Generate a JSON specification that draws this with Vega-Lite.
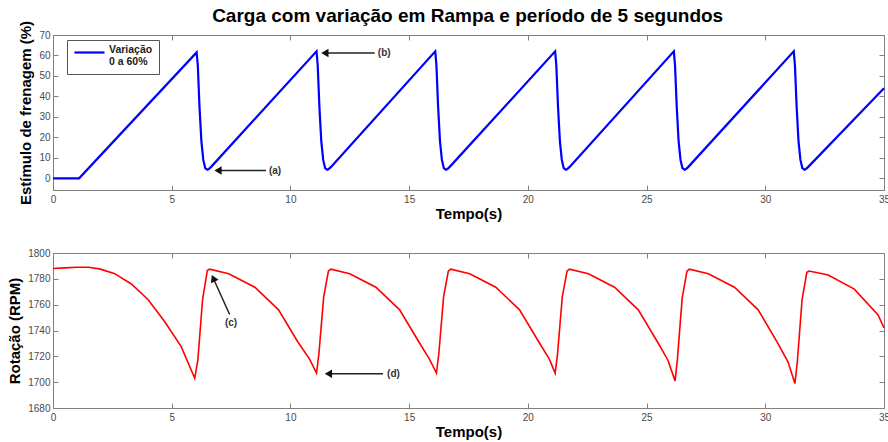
{
  "$schema": "https://vega.github.io/schema/vega-lite/v6.json",
  "background": "white",
  "padding": {"left": 7, "top": 6, "right": 2, "bottom": 0},
  "title": {"text": "Carga com variação em Rampa e período de 5 segundos", "fontSize": 19, "fontWeight": "bold", "font": "Liberation Sans", "anchor": "middle", "offset": -6, "dx": 19, "color": "#000"},
  "config": {
    "font": "Liberation Sans",
    "view": {"stroke": "#808080", "strokeWidth": 1},
    "axis": {"domainColor": "#808080", "tickColor": "#808080", "tickSize": -5, "labelPadding": 9, "labelColor": "#4a4a4a", "labelFontSize": 10, "labelFont": "Liberation Sans", "titleFontSize": 15, "titleFontWeight": "bold", "titleColor": "#000", "titleFont": "Liberation Sans", "grid": false, "titlePadding": 2, "format": "d", "labelFlush": false}
  },
  "spacing": 25,
  "vconcat": [
    {
      "width": 831,
      "height": 155,
      "resolve": {"axis": {"x": "independent", "y": "independent"}},
      "layer": [
        {
          "data": {"name": "blue", "values": [
            {"t": 0, "v": 0}, {"t": 1.1, "v": 0}, {"t": 6.05, "v": 61.5},
            {"t": 6.1, "v": 55}, {"t": 6.17, "v": 35}, {"t": 6.25, "v": 18}, {"t": 6.33, "v": 9}, {"t": 6.41, "v": 5}, {"t": 6.5, "v": 4.2}, {"t": 6.56, "v": 4.5}, {"t": 6.66, "v": 5.6},
            {"t": 11.1, "v": 62},
            {"t": 11.15, "v": 55}, {"t": 11.22, "v": 35}, {"t": 11.3, "v": 18}, {"t": 11.38, "v": 9}, {"t": 11.46, "v": 5}, {"t": 11.55, "v": 4.2}, {"t": 11.61, "v": 4.5}, {"t": 11.71, "v": 5.6},
            {"t": 16.1, "v": 62},
            {"t": 16.15, "v": 55}, {"t": 16.22, "v": 35}, {"t": 16.3, "v": 18}, {"t": 16.38, "v": 9}, {"t": 16.46, "v": 5}, {"t": 16.55, "v": 4.2}, {"t": 16.61, "v": 4.5}, {"t": 16.71, "v": 5.6},
            {"t": 21.15, "v": 62},
            {"t": 21.2, "v": 55}, {"t": 21.27, "v": 35}, {"t": 21.35, "v": 18}, {"t": 21.43, "v": 9}, {"t": 21.51, "v": 5}, {"t": 21.6, "v": 4.2}, {"t": 21.66, "v": 4.5}, {"t": 21.76, "v": 5.6},
            {"t": 26.15, "v": 62},
            {"t": 26.2, "v": 55}, {"t": 26.27, "v": 35}, {"t": 26.35, "v": 18}, {"t": 26.43, "v": 9}, {"t": 26.51, "v": 5}, {"t": 26.6, "v": 4.2}, {"t": 26.66, "v": 4.5}, {"t": 26.76, "v": 5.6},
            {"t": 31.2, "v": 62},
            {"t": 31.25, "v": 55}, {"t": 31.32, "v": 35}, {"t": 31.4, "v": 18}, {"t": 31.48, "v": 9}, {"t": 31.56, "v": 5}, {"t": 31.65, "v": 4.2}, {"t": 31.71, "v": 4.5}, {"t": 31.81, "v": 5.6},
            {"t": 35, "v": 44}
          ]},
          "mark": {"type": "line", "strokeWidth": 2.2, "interpolate": "linear"},
          "encoding": {
            "x": {"field": "t", "type": "quantitative", "scale": {"domain": [0, 35], "nice": false}, "axis": {"title": "Tempo(s)", "values": [0, 5, 10, 15, 20, 25, 30, 35]}},
            "y": {"field": "v", "type": "quantitative", "scale": {"domain": [-5.7, 70], "nice": false, "zero": false}, "axis": {"title": "Estímulo de frenagem (%)", "values": [0, 10, 20, 30, 40, 50, 60, 70], "labelPadding": 8, "titlePadding": 5}},
            "color": {"datum": "Variação", "type": "nominal", "scale": {"range": ["#0000ff"]},
              "legend": {"title": null, "orient": "none", "legendX": 14, "legendY": 5, "symbolType": "M-1,0H5", "symbolSize": 100, "symbolStrokeWidth": 2.2, "labelExpr": "['Variação', '0 a 60%']", "labelFontSize": 10.5, "labelFontWeight": "bold", "labelColor": "#222", "labelBaseline": "alphabetic", "strokeColor": "#555", "fillColor": "white", "padding": 6, "labelOffset": 23}}
          }
        },
        {
          "data": {"name": "blue2", "values": [{"t": 0, "v": 0}, {"t": 35, "v": 44}]},
          "mark": {"type": "line", "opacity": 0},
          "encoding": {
            "x": {"field": "t", "type": "quantitative", "axis": {"orient": "top", "labels": false, "title": null, "domain": false, "values": [0, 5, 10, 15, 20, 25, 30, 35]}},
            "y": {"field": "v", "type": "quantitative", "axis": {"orient": "right", "labels": false, "title": null, "domain": false, "values": [0, 10, 20, 30, 40, 50, 60, 70]}}
          }
        },
        {
          "data": {"name": "annTop", "values": [
            {"label": "(a)", "x1": 8.97, "x2": 7.0, "y": 3.8, "hx": 6.95, "tx": 9.35},
            {"label": "(b)", "x1": 13.55, "x2": 11.5, "y": 61.2, "hx": 11.45, "tx": 13.95}
          ]},
          "layer": [
            {"mark": {"type": "rule", "color": "#222", "strokeWidth": 1.5}, "encoding": {"x": {"field": "x1", "type": "quantitative", "axis": null}, "x2": {"field": "x2"}, "y": {"field": "y", "type": "quantitative", "axis": null}}},
            {"mark": {"type": "point", "shape": "triangle-left", "filled": true, "color": "#111", "size": 70, "opacity": 1}, "encoding": {"x": {"field": "hx", "type": "quantitative", "axis": null}, "y": {"field": "y", "type": "quantitative", "axis": null}}},
            {"mark": {"type": "text", "fontWeight": "bold", "fontSize": 10, "color": "#333", "align": "center", "baseline": "middle"}, "encoding": {"x": {"field": "tx", "type": "quantitative", "axis": null}, "y": {"field": "y", "type": "quantitative", "axis": null}, "text": {"field": "label"}}}
          ]
        }
      ]
    },
    {
      "width": 831,
      "height": 155,
      "resolve": {"axis": {"x": "independent", "y": "independent"}},
      "layer": [
        {
          "data": {"name": "red", "values": [
            {"t": 0, "v": 1788}, {"t": 0.5, "v": 1788.5}, {"t": 1.0, "v": 1789}, {"t": 1.5, "v": 1789}, {"t": 2.0, "v": 1787.5}, {"t": 2.6, "v": 1784}, {"t": 3.3, "v": 1776}, {"t": 4.0, "v": 1764}, {"t": 4.7, "v": 1747}, {"t": 5.4, "v": 1727.5}, {"t": 5.97, "v": 1703},
            {"t": 6.1, "v": 1717}, {"t": 6.3, "v": 1764}, {"t": 6.5, "v": 1786.5}, {"t": 6.6, "v": 1787.5},
            {"t": 7.4, "v": 1784}, {"t": 8.5, "v": 1773.5}, {"t": 9.5, "v": 1756}, {"t": 10.3, "v": 1731.5}, {"t": 10.8, "v": 1718}, {"t": 11.1, "v": 1707},
            {"t": 11.2, "v": 1722}, {"t": 11.4, "v": 1766}, {"t": 11.6, "v": 1786}, {"t": 11.7, "v": 1787.5},
            {"t": 12.5, "v": 1784}, {"t": 13.6, "v": 1773.5}, {"t": 14.6, "v": 1756}, {"t": 15.4, "v": 1731.5}, {"t": 15.85, "v": 1718}, {"t": 16.15, "v": 1707},
            {"t": 16.25, "v": 1722}, {"t": 16.45, "v": 1766}, {"t": 16.65, "v": 1786}, {"t": 16.75, "v": 1787.5},
            {"t": 17.55, "v": 1784}, {"t": 18.65, "v": 1773.5}, {"t": 19.65, "v": 1756}, {"t": 20.45, "v": 1731.5}, {"t": 20.9, "v": 1718}, {"t": 21.15, "v": 1707},
            {"t": 21.25, "v": 1722}, {"t": 21.45, "v": 1766}, {"t": 21.65, "v": 1786}, {"t": 21.75, "v": 1787.5},
            {"t": 22.55, "v": 1784}, {"t": 23.65, "v": 1773.5}, {"t": 24.65, "v": 1756}, {"t": 25.45, "v": 1731.5}, {"t": 25.9, "v": 1717}, {"t": 26.2, "v": 1701},
            {"t": 26.3, "v": 1718}, {"t": 26.5, "v": 1765}, {"t": 26.7, "v": 1786}, {"t": 26.8, "v": 1787.5},
            {"t": 27.6, "v": 1784}, {"t": 28.7, "v": 1773.5}, {"t": 29.7, "v": 1756}, {"t": 30.5, "v": 1731}, {"t": 30.95, "v": 1716}, {"t": 31.25, "v": 1699},
            {"t": 31.35, "v": 1716}, {"t": 31.55, "v": 1764}, {"t": 31.75, "v": 1785}, {"t": 31.85, "v": 1786},
            {"t": 32.65, "v": 1783}, {"t": 33.75, "v": 1772}, {"t": 34.75, "v": 1752}, {"t": 35, "v": 1742}
          ]},
          "mark": {"type": "line", "strokeWidth": 1.6, "color": "#ff0000"},
          "encoding": {
            "x": {"field": "t", "type": "quantitative", "scale": {"domain": [0, 35], "nice": false}, "axis": {"title": "Tempo(s)", "values": [0, 5, 10, 15, 20, 25, 30, 35]}},
            "y": {"field": "v", "type": "quantitative", "scale": {"domain": [1680, 1800], "nice": false, "zero": false}, "axis": {"title": "Rotação (RPM)", "values": [1680, 1700, 1720, 1740, 1760, 1780, 1800], "labelPadding": 8, "titlePadding": 5}}
          }
        },
        {
          "data": {"name": "red2", "values": [{"t": 0, "v": 1700}, {"t": 35, "v": 1742}]},
          "mark": {"type": "line", "opacity": 0},
          "encoding": {
            "x": {"field": "t", "type": "quantitative", "axis": {"orient": "top", "labels": false, "title": null, "domain": false, "values": [0, 5, 10, 15, 20, 25, 30, 35]}},
            "y": {"field": "v", "type": "quantitative", "axis": {"orient": "right", "labels": false, "title": null, "domain": false, "values": [1680, 1700, 1720, 1740, 1760, 1780, 1800]}}
          }
        },
        {
          "data": {"name": "annBot", "values": [
            {"label": "(d)", "x1": 13.9, "y1": 1706.5, "x2": 11.6, "y2": 1706.5, "tx": 14.34, "ty": 1706.5},
            {"label": "(c)", "x1": 7.44, "y1": 1752.4, "x2": 6.75, "y2": 1780.5, "tx": 7.5, "ty": 1746}
          ]},
          "layer": [
            {"mark": {"type": "rule", "color": "#222", "strokeWidth": 1.5}, "encoding": {"x": {"field": "x1", "type": "quantitative", "axis": null}, "x2": {"field": "x2"}, "y": {"field": "y1", "type": "quantitative", "axis": null}, "y2": {"field": "y2"}}},
            {"transform": [{"filter": "datum.label === '(d)'"}], "mark": {"type": "point", "shape": "triangle-left", "filled": true, "color": "#111", "size": 70, "opacity": 1}, "encoding": {"x": {"field": "x2", "type": "quantitative", "axis": null}, "y": {"field": "y2", "type": "quantitative", "axis": null}}},
            {"transform": [{"filter": "datum.label === '(c)'"}], "mark": {"type": "point", "shape": "triangle-up", "angle": 335, "filled": true, "color": "#111", "size": 70, "opacity": 1}, "encoding": {"x": {"field": "x2", "type": "quantitative", "axis": null}, "y": {"field": "y2", "type": "quantitative", "axis": null}}},
            {"mark": {"type": "text", "fontWeight": "bold", "fontSize": 10, "color": "#333", "align": "center", "baseline": "middle"}, "encoding": {"x": {"field": "tx", "type": "quantitative", "axis": null}, "y": {"field": "ty", "type": "quantitative", "axis": null}, "text": {"field": "label"}}}
          ]
        }
      ]
    }
  ]
}
